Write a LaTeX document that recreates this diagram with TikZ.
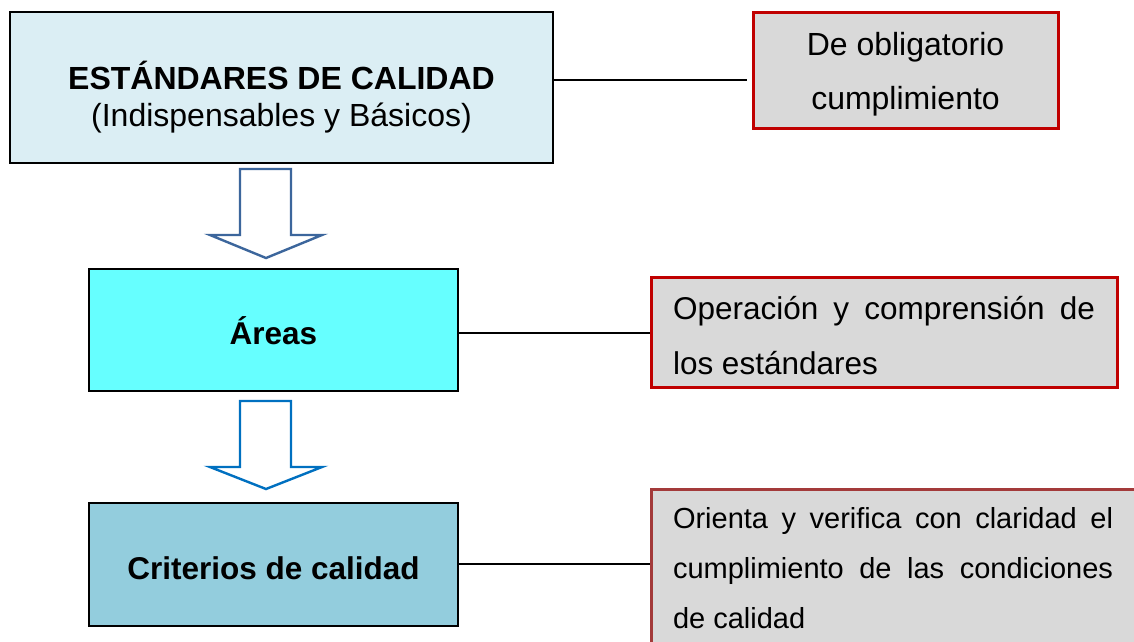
\documentclass[tikz,border=0pt]{standalone}
\usepackage{fontspec}
\setmainfont{Liberation Sans}
\definecolor{boxone}{HTML}{DBEEF4}
\definecolor{cyanbox}{HTML}{66FFFF}
\definecolor{critbox}{HTML}{93CDDD}
\definecolor{graybox}{HTML}{D9D9D9}
\definecolor{redb}{HTML}{C00000}
\definecolor{brownred}{HTML}{A33A3A}
\definecolor{arrowA}{HTML}{3C669C}
\definecolor{arrowB}{HTML}{0070C0}
\tikzset{
  leftbox/.style={draw=black, line width=1.6pt, inner sep=0pt, align=center},
  notebox/.style={draw=redb, line width=3pt, fill=graybox, inner sep=0pt},
  link/.style={draw=black, line width=1.6pt},
  blockarrow/.style={line width=2.4pt, fill=white, line join=miter},
}
\newcommand{\lowered}[3]{\raisebox{-#1}[\height][\depth]{\begin{tabular}{@{}#2@{}}#3\end{tabular}}}
\begin{document}
\begin{tikzpicture}[x=1pt, y=-1pt]
\clip (0,0) rectangle (1134,641);
\fill[white] (0,0) rectangle (1134,641);

% left column boxes
\node[leftbox, fill=boxone, line width=2pt, minimum width=543pt, minimum height=151pt,
      font=\fontsize{32}{37}\selectfont] (std) at (281.5,87.5)
  {\lowered{12pt}{c}{{\bfseries ESTÁNDARES DE CALIDAD}\\(Indispensables y Básicos)}};
\node[leftbox, fill=cyanbox, minimum width=369pt, minimum height=122pt,
      font=\bfseries\fontsize{31.5}{37}\selectfont] (areas) at (273.5,330)
  {\lowered{6pt}{c}{Áreas}};
\node[leftbox, fill=critbox, minimum width=369pt, minimum height=123pt,
      font=\bfseries\fontsize{31.5}{37}\selectfont] (crit) at (273.5,564.5)
  {\lowered{8pt}{c}{Criterios de calidad}};

% right column boxes
\node[notebox, minimum width=305pt, minimum height=116pt,
      font=\fontsize{32}{54}\selectfont] (oblig) at (905.5,70)
  {\lowered{2pt}{c}{De obligatorio\\cumplimiento}};
\node[notebox, minimum width=466pt, minimum height=110pt,
      font=\fontsize{31.5}{55}\selectfont] (oper) at (884,332)
  {\lowered{4pt}{l}{\makebox[422pt][s]{Operación y comprensión de}\\los estándares}};
\node[notebox, draw=brownred, minimum width=484pt, minimum height=158pt,
      font=\fontsize{29}{50}\selectfont] (orient) at (893,568)
  {\lowered{0pt}{l}{\makebox[440pt][s]{Orienta y verifica con claridad el}\\
   \makebox[440pt][s]{cumplimiento de las condiciones}\\
   de calidad}};

% connectors
\draw[link, line width=2pt] (std.east |- 0,80) -- ([xshift=-5pt]oblig.west |- 0,80);
\draw[link] (areas.east |- 0,333) -- (oper.west |- 0,333);
\draw[link] (crit.east |- 0,564) -- (orient.west |- 0,564);

% block arrows
\draw[blockarrow, draw=arrowA] (240,169) -- (291,169) -- (291,235) -- (322,235)
  -- (266,258) -- (210,235) -- (240,235) -- cycle;
\draw[blockarrow, draw=arrowB] (240,401) -- (291,401) -- (291,467) -- (322,467)
  -- (266,489) -- (210,467) -- (240,467) -- cycle;
\end{tikzpicture}
\end{document}
